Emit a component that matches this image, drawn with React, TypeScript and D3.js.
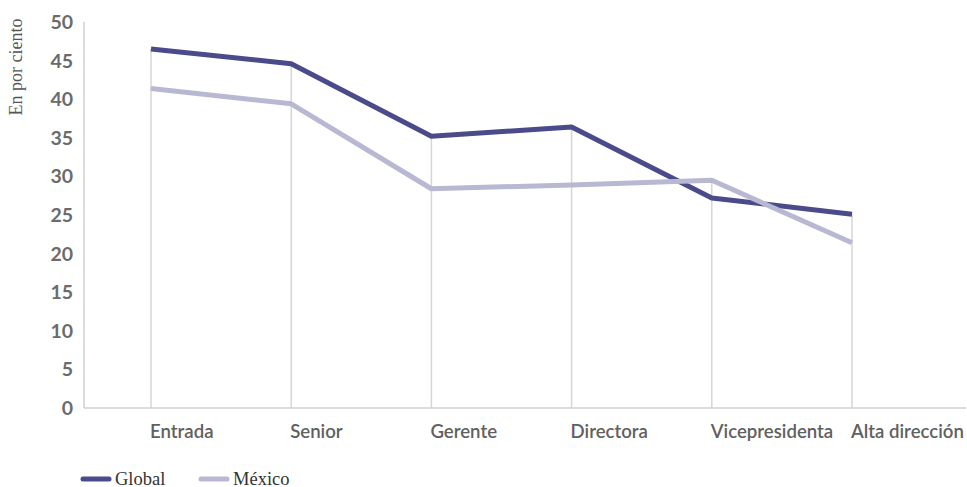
import React from "react";
import * as d3 from "d3";

const categories = ["Entrada", "Senior", "Gerente", "Directora", "Vicepresidenta", "Alta dirección"];
const globalValues = [46.5, 44.6, 35.2, 36.4, 27.2, 25.1];
const mexicoValues = [41.4, 39.4, 28.4, 28.9, 29.5, 21.4];
const yTicks = [0, 5, 10, 15, 20, 25, 30, 35, 40, 45, 50];
const seriesNames = ["Global", "México"];
const colors = ["#4b4a8a", "#b8b8d3"];

export default function App() {
  const W = 967, H = 487;
  const x0 = 84, x1 = 966;
  const y = d3.scaleLinear().domain([0, 50]).range([408, 22]);
  const x = d3.scalePoint<string>().domain(categories).range([151, 852]);
  const line = d3.line<number>().x((_, i) => x(categories[i])!).y((d) => y(d));
  const series = [globalValues, mexicoValues];
  const sans = "Lato, 'Open Sans', sans-serif";
  const serif = "'Liberation Serif', 'DejaVu Serif', serif";
  return (
    <svg width={W} height={H} style={{ position: "absolute", left: 0, top: 0 }}>
      <rect width={W} height={H} fill="#fff" />
      {categories.map((c, i) => (
        <line key={c} x1={x(c)} x2={x(c)} y1={y(Math.max(globalValues[i], mexicoValues[i]))} y2={y(0)} stroke="#d6d6d6" strokeWidth={1.5} />
      ))}
      <line x1={x0} x2={x0} y1={y(50)} y2={y(0)} stroke="#d0d0d0" strokeWidth={1.5} />
      <line x1={x0} x2={x1} y1={y(0)} y2={y(0)} stroke="#d0d0d0" strokeWidth={1.5} />
      {yTicks.map((t) => (
        <text key={t} x={73} y={y(t)} dy="0.36em" textAnchor="end" fontFamily={sans} fontWeight={700} fontSize={19.5} fill="#6b6b6b">{t}</text>
      ))}
      {categories.map((c) => (
        <text key={c} x={x(c)! - 1} y={438} fontFamily={sans} fontSize={18.6} fontWeight={600} fill="#606060">{c}</text>
      ))}
      <text transform="translate(22,67) rotate(-90)" textAnchor="middle" fontFamily={serif} fontSize={18} fill="#555">En por ciento</text>
      {series.map((s, i) => (
        <path key={i} d={line(s)!} fill="none" stroke={colors[i]} strokeWidth={5} strokeLinejoin="round" />
      ))}
      {seriesNames.map((n, i) => (
        <g key={n} transform={`translate(${83 + i * 118},479)`}>
          <line x1={0} x2={26} y1={0} y2={0} stroke={colors[i]} strokeWidth={5} strokeLinecap="round" />
          <text x={32} y={5.5} fontFamily={serif} fontSize={18.5} fill="#333">{n}</text>
        </g>
      ))}
    </svg>
  );
}
